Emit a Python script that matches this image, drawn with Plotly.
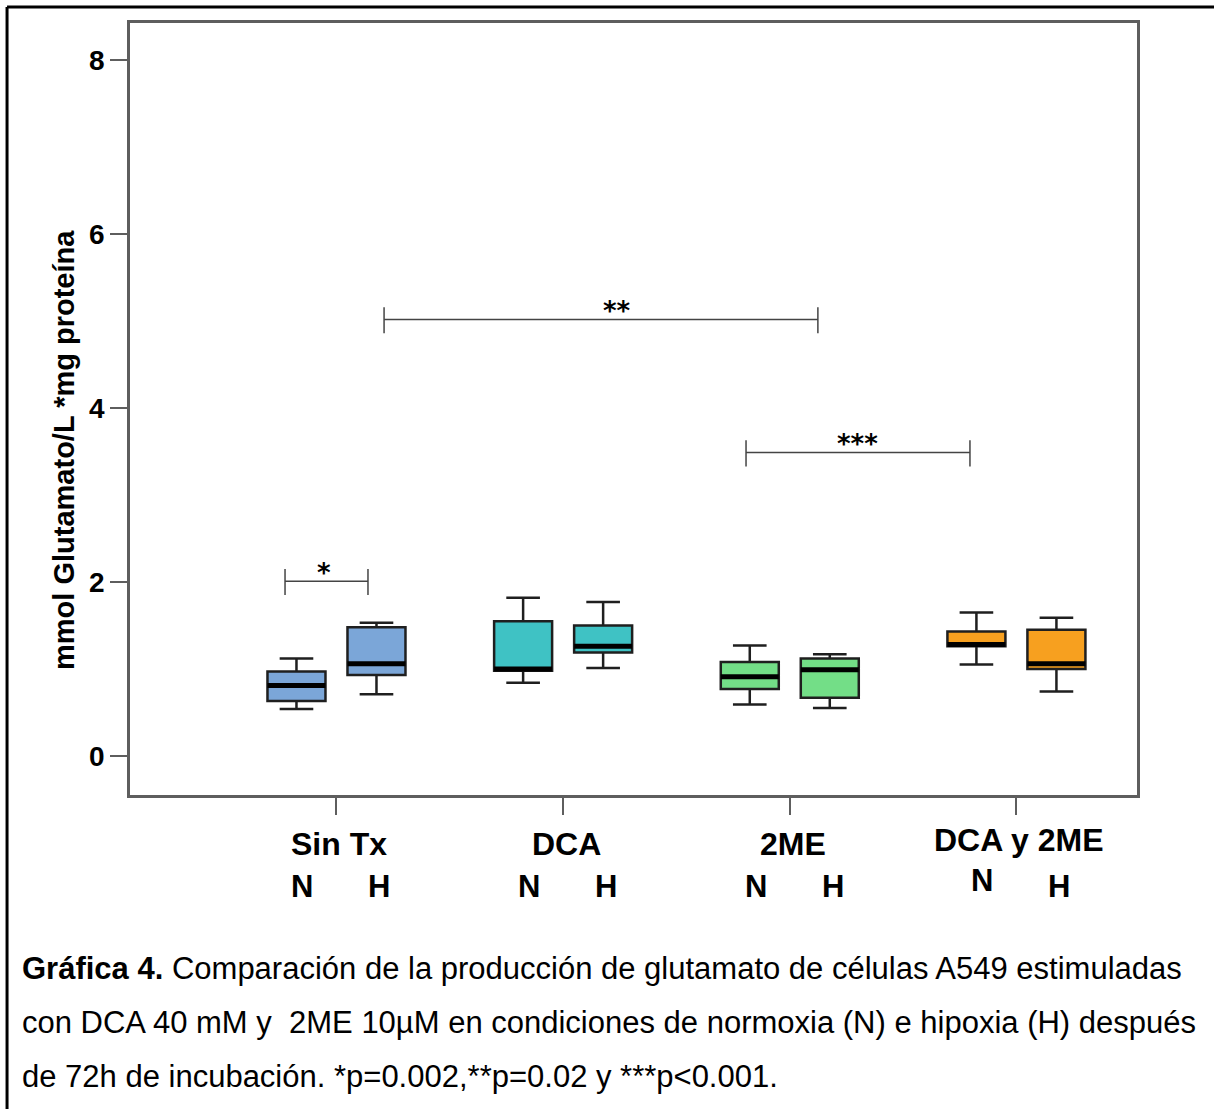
import plotly.graph_objects as go

# ---------------- data ----------------
categories = ["Sin Tx", "DCA", "2ME", "DCA y 2ME"]
conditions = ["N", "H"]
colors = ["#7BA6D8", "#3FC2C4", "#73DE87", "#F7A01F"]

# per category: [N, H]
lower_whisker = [[0.54, 0.71], [0.84, 1.01], [0.59, 0.55], [1.05, 0.74]]
q1_vals       = [[0.63, 0.93], [0.98, 1.19], [0.77, 0.67], [1.26, 1.00]]
median_vals   = [[0.81, 1.06], [1.00, 1.26], [0.91, 0.99], [1.28, 1.06]]
q3_vals       = [[0.97, 1.48], [1.55, 1.50], [1.08, 1.12], [1.43, 1.45]]
upper_whisker = [[1.12, 1.53], [1.82, 1.77], [1.27, 1.17], [1.65, 1.59]]

y_ticks = [0, 2, 4, 6, 8]
y_title = "mmol Glutamato/L *mg proteína"

# significance brackets: (x start, x end, y level, label, label x)
brackets = [
    (-0.227, 0.139, 2.01, "*", -0.055),
    (0.210, 2.124, 5.02, "**", 1.2375),
    (1.807, 2.795, 3.49, "***", 2.30),
]

caption_lines = [
    "<b>Gráfica 4.</b> Comparación de la producción de glutamato de células A549 estimuladas",
    "con DCA 40 mM y  2ME 10µM en condiciones de normoxia (N) e hipoxia (H) después",
    "de 72h de incubación. *p=0.002,**p=0.02 y ***p<0.001.",
]

# ---------------- layout constants ----------------
W, H = 1214, 1109
ML, MR, MT, MB = 130, 77, 23, 314
BOXGAP, BOXGROUPGAP = 0.294, 0.275
FONT = "Liberation Sans, Arial, sans-serif"
AXIS_COLOR = "#5e5e5e"

fig = go.Figure()

for ci, cat in enumerate(categories):
    for k, cond in enumerate(conditions):
        fig.add_trace(go.Box(
            x=[cat],
            q1=[q1_vals[ci][k]],
            median=[median_vals[ci][k]],
            q3=[q3_vals[ci][k]],
            lowerfence=[lower_whisker[ci][k]],
            upperfence=[upper_whisker[ci][k]],
            offsetgroup=cond,
            fillcolor=colors[ci],
            line=dict(color="#1f1f1f", width=2.5),
            whiskerwidth=0.58,
            boxpoints=False,
            showlegend=False,
            name=f"{cat} {cond}",
        ))

# thick median lines (same geometry plotly uses for grouped boxes)
dpos = 0.5
ngroups = len(conditions)
bdpos = dpos * (1 - BOXGAP) * (1 - BOXGROUPGAP) / ngroups
shapes = []
for ci in range(len(categories)):
    for k in range(ngroups):
        bpos = 2 * dpos * (-0.5 + (k + 0.5) / ngroups) * (1 - BOXGAP)
        shapes.append(dict(type="line", xref="x", yref="y",
                           x0=ci + bpos - bdpos, x1=ci + bpos + bdpos,
                           y0=median_vals[ci][k], y1=median_vals[ci][k],
                           line=dict(color="black", width=5)))

annotations = []
# brackets
for x0, x1, yv, lab, lx in brackets:
    shapes.append(dict(type="line", xref="x", yref="y", x0=x0, x1=x1, y0=yv, y1=yv,
                       line=dict(color="#444444", width=1.5)))
    for xx in (x0, x1):
        shapes.append(dict(type="line", xref="x", yref="y", x0=xx, x1=xx,
                           y0=yv - 0.16, y1=yv + 0.14,
                           line=dict(color="#444444", width=1.5)))
    annotations.append(dict(x=lx, y=yv, xref="x", yref="y", text=lab, showarrow=False,
                            yanchor="middle", yshift=8,
                            font=dict(family="DejaVu Sans", size=26, color="black", weight="bold")))

# category labels and N / H labels
for ci, cat in enumerate(categories):
    cy = -0.0583 if ci == 3 else -0.0635
    annotations.append(dict(x=cat, y=cy, xref="x", yref="paper", text=cat, showarrow=False,
                            xshift=3, yanchor="middle",
                            font=dict(family=FONT, size=32, color="black", weight="bold")))
    ny = -0.111 if ci == 3 else -0.118
    annotations.append(dict(x=cat, y=ny, xref="x", yref="paper", text="N", showarrow=False,
                            xshift=-34, yanchor="middle",
                            font=dict(family=FONT, size=31, color="black", weight="bold")))
    annotations.append(dict(x=cat, y=-0.118, xref="x", yref="paper", text="H", showarrow=False,
                            xshift=43, yanchor="middle",
                            font=dict(family=FONT, size=31, color="black", weight="bold")))

# y axis title
annotations.append(dict(x=-0.0655, y=0.447, xref="paper", yref="paper", text=y_title,
                        textangle=-90, showarrow=False, xanchor="center", yanchor="middle",
                        font=dict(family=FONT, size=29, color="black", weight="bold")))

# caption
for i, line in enumerate(caption_lines):
    annotations.append(dict(x=-0.1095, y=-0.2241 - 0.07 * i, xref="paper", yref="paper",
                            text=line, showarrow=False, xanchor="left", yanchor="middle",
                            align="left",
                            font=dict(family=FONT, size=31, color="black")))

# outer frame (left and top)
shapes.append(dict(type="line", xref="paper", yref="paper", x0=-0.1221, x1=-0.1221,
                   y0=-0.42, y1=1.0207, line=dict(color="black", width=3)))
shapes.append(dict(type="line", xref="paper", yref="paper", x0=-0.1221, x1=1.08,
                   y0=1.0207, y1=1.0207, line=dict(color="black", width=3)))

fig.update_layout(
    width=W, height=H,
    margin=dict(l=ML, r=MR, t=MT, b=MB),
    paper_bgcolor="white", plot_bgcolor="white",
    boxmode="group", boxgap=BOXGAP, boxgroupgap=BOXGROUPGAP,
    shapes=shapes, annotations=annotations,
    showlegend=False,
)
fig.update_xaxes(
    type="category", categoryorder="array", categoryarray=categories,
    range=[-0.911, 3.532], showticklabels=False,
    ticks="outside", ticklen=17, tickwidth=2, tickcolor=AXIS_COLOR,
    showline=True, linecolor=AXIS_COLOR, linewidth=2.5, mirror=True,
    showgrid=False, zeroline=False,
)
fig.update_yaxes(
    range=[-0.45, 8.43], tickvals=y_ticks,
    ticks="outside", ticklen=17, tickwidth=2, tickcolor=AXIS_COLOR,
    tickfont=dict(family=FONT, size=28, color="black", weight="bold"),
    showline=True, linecolor=AXIS_COLOR, linewidth=2.5, mirror=True,
    showgrid=False, zeroline=False,
)

fig.write_html("out.html")
